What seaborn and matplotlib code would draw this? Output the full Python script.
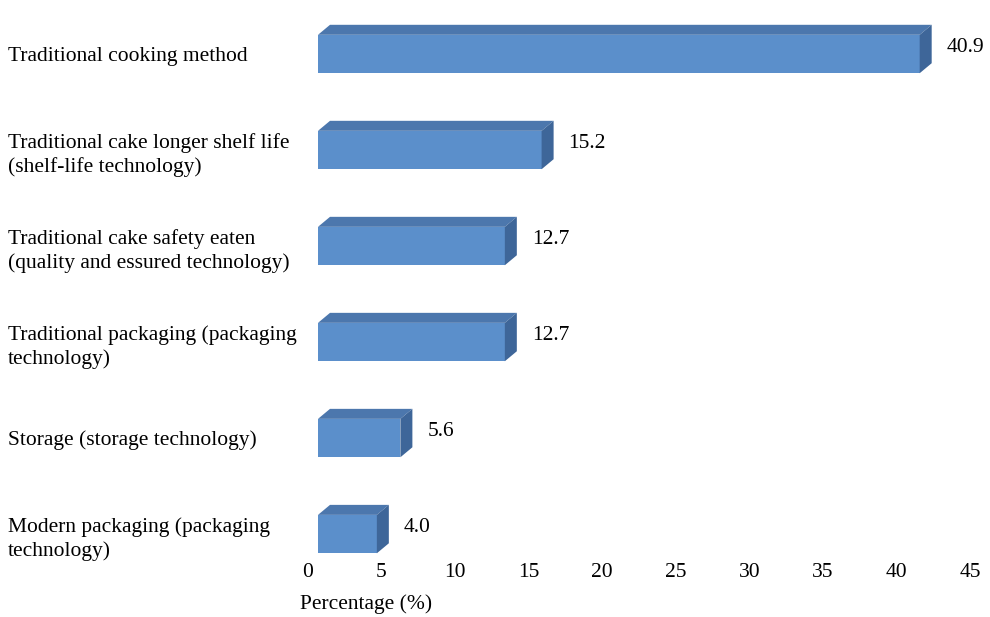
import matplotlib
matplotlib.use("Agg")
import matplotlib.pyplot as plt
import seaborn as sns
import pandas as pd
from matplotlib.patches import Polygon

categories = [
    "Traditional cooking method",
    "Traditional cake longer shelf life\n(shelf-life technology)",
    "Traditional cake safety eaten\n(quality and essured technology)",
    "Traditional packaging (packaging\ntechnology)",
    "Storage (storage technology)",
    "Modern packaging (packaging\ntechnology)",
]
values = [40.9, 15.2, 12.7, 12.7, 5.6, 4.0]
xticks = [0, 5, 10, 15, 20, 25, 30, 35, 40, 45]
xlabel = "Percentage (%)"

sns.set_theme(style="white")
plt.rcParams["font.family"] = ["Liberation Serif", "DejaVu Serif"]
plt.rcParams["text.color"] = "black"
plt.rcParams["xtick.color"] = "black"
plt.rcParams["ytick.color"] = "black"
FS = 15.5

W, H = 990, 617
fig = plt.figure(figsize=(W / 100, H / 100), dpi=100)
ax = fig.add_axes([308 / W, 57 / H, (970 - 308) / W, 560 / H])

df = pd.DataFrame({"cat": categories, "val": values})
front = "#5B8FCB"
top_c = "#4C77AD"
side_c = "#3E6699"
sns.barplot(data=df, y="cat", x="val", orient="h", width=0.4, color=front,
            saturation=1, ax=ax, edgecolor="none")

ax.set_xlim(0, 45)
ax.set_ylim(5.27, -0.5625)
for s in ax.spines.values():
    s.set_visible(False)
ax.set_xticks(xticks)
ax.set_xticklabels([str(t) for t in xticks], fontsize=FS, color="black")
ax.set_yticks(range(len(categories)))
ax.set_yticklabels(categories, fontsize=FS, ha="left", linespacing=1.3, color="black")
ax.tick_params(axis="y", length=0, pad=300 * 72 / 100)
ax.tick_params(axis="x", length=0, pad=2)
ax.set_xlabel("")
ax.set_ylabel("")
fig.text(300 / W, 1 - 604 / H, xlabel, fontsize=FS, ha="left", va="center", color="black")

fig.canvas.draw()
ppx = ax.bbox.width / 45.0
ppy = ax.bbox.height / (5.27 + 0.5625)
shift = 10 / ppx
dx = 12 / ppx
dy = 10 / ppy

for i, p in enumerate(ax.patches):
    x0 = p.get_x() + shift
    w = p.get_width()
    y0 = p.get_y()
    h = p.get_height()
    p.set_x(x0)
    yt = y0
    yb = y0 + h
    x1 = x0 + w
    topf = Polygon([[x0, yt], [x1, yt], [x1 + dx, yt - dy], [x0 + dx, yt - dy]],
                   closed=True, facecolor=top_c, edgecolor="none", clip_on=False)
    sidef = Polygon([[x1, yt], [x1 + dx, yt - dy], [x1 + dx, yb - dy], [x1, yb]],
                    closed=True, facecolor=side_c, edgecolor="none", clip_on=False)
    ax.add_patch(topf)
    ax.add_patch(sidef)
    ax.text(x1 + dx + 15 / ppx, yt - dy + (h + dy) / 2 - 0.02, f"{values[i]:.1f}",
            fontsize=FS, ha="left", va="center", color="black")

fig.savefig("out.png", dpi=100)
